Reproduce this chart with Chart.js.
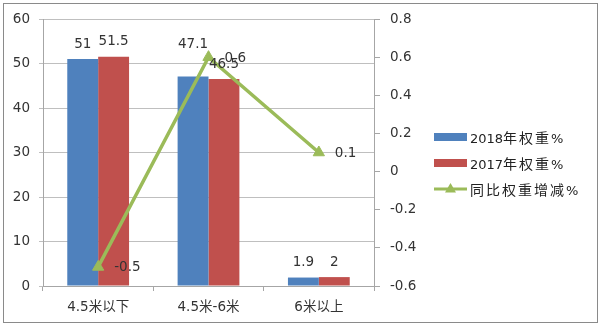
<!DOCTYPE html>
<html><head><meta charset="utf-8">
<script src="https://cdn.jsdelivr.net/npm/chart.js@4.4.1/dist/chart.umd.min.js"></script>
<style>
html,body{margin:0;padding:0;background:#fff;}
#wrap{position:relative;width:600px;height:328px;overflow:hidden;background:#fff;}
#frame{position:absolute;left:3px;top:3px;width:595px;height:320px;border:1px solid #8a8a8a;box-sizing:border-box;pointer-events:none;}
canvas{position:absolute;left:0;top:0;}
#legend{position:absolute;left:434px;top:129px;font-family:"DejaVu Sans","Noto Sans CJK SC",sans-serif;font-size:13px;color:#222;}
.item{position:relative;height:26px;line-height:16px;}
.sw{position:absolute;left:0;top:4px;width:33px;height:8px;}
.ic{position:absolute;left:0;top:0;}
.txt{position:absolute;left:36px;top:0;white-space:nowrap;}
.cjk{font-family:"Noto Sans CJK SC",sans-serif;font-size:14px;letter-spacing:2px;}
</style>
</head><body>
<div id="wrap">
<canvas id="c" width="600" height="328"></canvas>
<div id="legend"></div>
<div id="frame"></div>
</div>
<script>
const categories = ['4.5米以下', '4.5米-6米', '6米以上'];
const seriesNames = ['2018年权重%', '2017年权重%', '同比权重增减%'];
const weight2018 = [51, 47.1, 1.9];
const weight2017 = [51.5, 46.5, 2];
const yoyChange = [-0.5, 0.6, 0.1];
const leftTicks = [0, 10, 20, 30, 40, 50, 60];
const rightTicks = [-0.6, -0.4, -0.2, 0, 0.2, 0.4, 0.6, 0.8];

const BLUE = '#4F81BD', RED = '#C0504D', GREEN = '#9BBB59';
const FONT = '"DejaVu Sans", "Noto Sans CJK SC", sans-serif';

Chart.defaults.font.family = FONT;
Chart.defaults.font.size = 13.5;
Chart.defaults.color = '#333';

const valueLabels = {
  id: 'valueLabels',
  afterDatasetsDraw(chart, args, opts) {
    const ctx = chart.ctx;
    ctx.save();
    ctx.font = '13.5px ' + FONT;
    ctx.fillStyle = '#333';
    chart.data.datasets.forEach((ds, di) => {
      const meta = chart.getDatasetMeta(di);
      meta.data.forEach((el, i) => {
        const txt = String(ds.data[i]);
        if (ds.type === 'line') {
          ctx.textAlign = 'left'; ctx.textBaseline = 'middle';
          ctx.fillText(txt, el.x + 16, el.y + 1);
        } else {
          const lift = (opts.extraLift && opts.extraLift[di + '-' + i]) || 0;
          ctx.textAlign = 'center'; ctx.textBaseline = 'middle';
          ctx.fillText(txt, el.x, el.y - 15 - lift);
        }
      });
    });
    ctx.restore();
  }
};

const fmt = v => String(Number(Number(v).toFixed(1)));

new Chart(document.getElementById('c'), {
  type: 'bar',
  data: {
    labels: categories,
    datasets: [
      { type: 'line', label: seriesNames[2], data: yoyChange, yAxisID: 'y1', order: 0,
        borderColor: GREEN, borderWidth: 3.5, backgroundColor: GREEN,
        pointStyle: 'triangle', pointRadius: 6.5, pointBackgroundColor: GREEN, pointBorderColor: GREEN, pointBorderWidth: 1, tension: 0 },
      { label: seriesNames[0], data: weight2018, backgroundColor: BLUE, yAxisID: 'y', order: 1,
        categoryPercentage: 0.56, barPercentage: 1 },
      { label: seriesNames[1], data: weight2017, backgroundColor: RED, yAxisID: 'y', order: 1,
        categoryPercentage: 0.56, barPercentage: 1 }
    ]
  },
  options: {
    responsive: false,
    animation: false,
    layout: { padding: { left: 0, top: 19, right: 166, bottom: 0 } },
    plugins: {
      legend: { display: false },
      tooltip: { enabled: false },
      valueLabels: { extraLift: { '1-1': 17 } }
    },
    scales: {
      x: {
        grid: { offset: true, drawOnChartArea: false, drawTicks: true, tickLength: 5, color: '#A6A6A6' },
        border: { display: true, color: '#A6A6A6' },
        ticks: { padding: 8, color: '#333' },
        afterFit: s => { s.height = 42; }
      },
      y: {
        position: 'left', min: 0, max: 60,
        afterBuildTicks: s => { s.ticks = leftTicks.map(v => ({ value: v })); },
        grid: { color: '#BFBFBF', tickLength: 4 },
        border: { display: true, color: '#A6A6A6' },
        ticks: { padding: 9, color: '#333' },
        afterFit: s => { s.width = 43; }
      },
      y1: {
        position: 'right', min: -0.6, max: 0.8,
        afterBuildTicks: s => { s.ticks = rightTicks.map(v => ({ value: v })); },
        grid: { drawOnChartArea: false, tickLength: 6, color: '#A6A6A6' },
        border: { display: true, color: '#A6A6A6' },
        ticks: { padding: 10, color: '#333', callback: v => fmt(v) },
        afterFit: s => { s.width = 60; }
      }
    }
  },
  plugins: [valueLabels]
});

// HTML legend built from series names
const legend = document.getElementById('legend');
const legendColors = [BLUE, RED, GREEN];
seriesNames.forEach((name, i) => {
  const item = document.createElement('div');
  item.className = 'item';
  let icon;
  if (i < 2) {
    icon = '<span class="sw" style="background:' + legendColors[i] + '"></span>';
  } else {
    icon = '<svg class="ic" width="34" height="16"><line x1="0" y1="8" x2="33" y2="8" stroke="' + GREEN + '" stroke-width="3"/>' +
      '<polygon points="16.5,2 22,11.5 11,11.5" fill="' + GREEN + '"/></svg>';
  }
  const html = name.replace(/([\u4e00-\u9fff]+)/g, '<span class="cjk">$1</span>');
  item.innerHTML = icon + '<span class="txt">' + html + '</span>';
  legend.appendChild(item);
});
</script>
</body></html>
